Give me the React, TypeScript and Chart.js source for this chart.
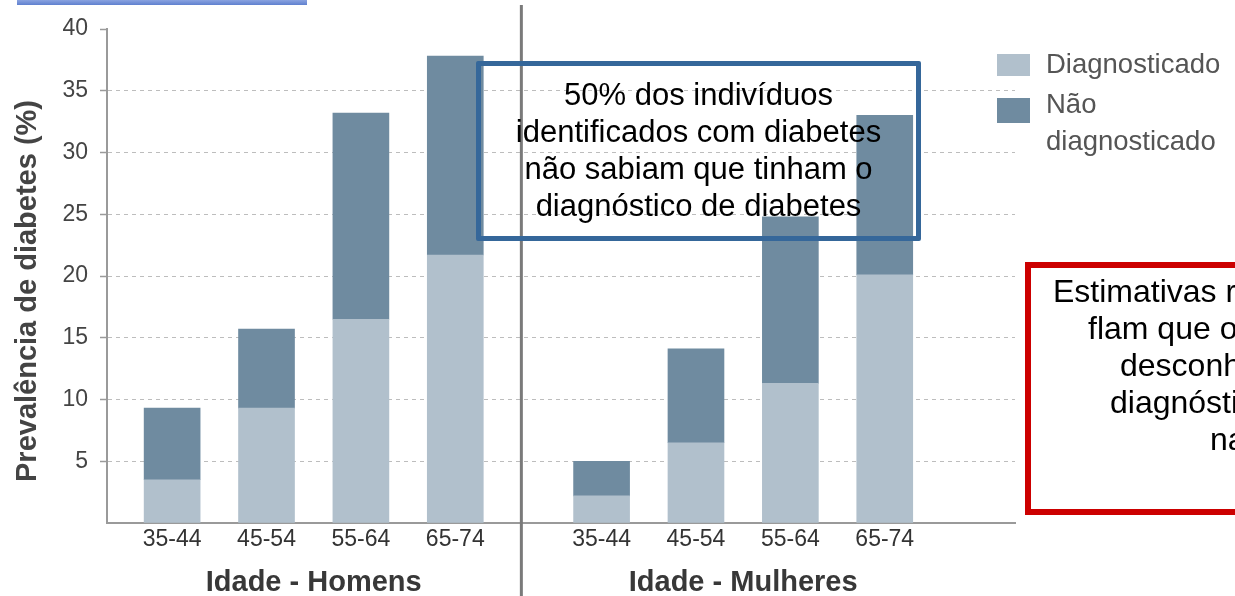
import React, { useEffect, useRef } from "react";
import { Chart, registerables } from "chart.js";

Chart.register(...registerables);

// ---------- data ----------
const AGE_GROUPS = ["35-44", "45-54", "55-64", "65-74"];
const MEN_DIAGNOSED = [3.5, 9.3, 16.5, 21.7];
const MEN_UNDIAGNOSED = [5.8, 6.4, 16.7, 16.1];
const WOMEN_DIAGNOSED = [2.2, 6.5, 11.3, 20.1];
const WOMEN_UNDIAGNOSED = [2.8, 7.6, 13.5, 12.9];
const SERIES_NAMES = ["Diagnosticado", "Não diagnosticado"];
const GROUP_TITLES = ["Idade - Homens", "Idade - Mulheres"];
const Y_TITLE = "Prevalência de diabetes (%)";
const Y_MAX = 40;
const Y_STEP = 5;
const BOX_TEXT = [
  "50% dos indivíduos",
  "identificados com diabetes",
  "não sabiam que tinham o",
  "diagnóstico de diabetes",
];
const RED_BOX_TEXT = ["Estimativas re-", "flam que o", "desconhecimento do", "diagnóstico é", "nacional"];

// ---------- layout helpers (positions on the index axis) ----------
const GROUP_GAP = 1.55;
const WOMEN_START = AGE_GROUPS.length - 1 + GROUP_GAP;
const MEN_POS = AGE_GROUPS.map((_, i) => i);
const WOMEN_POS = AGE_GROUPS.map((_, i) => WOMEN_START + i);
const ALL_POS = [...MEN_POS, ...WOMEN_POS];
const ALL_LABELS = [...AGE_GROUPS, ...AGE_GROUPS];
const DIVIDER_AT = AGE_GROUPS.length - 1 + 0.7;

const LIGHT = "#b1c0cc";
const DARK = "#6f8ba0";
const FONT = "'Liberation Sans', Arial, Helvetica, sans-serif";

export default function App() {
  const canvasRef = useRef<HTMLCanvasElement | null>(null);

  useEffect(() => {
    if (!canvasRef.current) return;
    const diagnosed = [
      ...MEN_POS.map((x, i) => ({ x, y: MEN_DIAGNOSED[i] })),
      ...WOMEN_POS.map((x, i) => ({ x, y: WOMEN_DIAGNOSED[i] })),
    ];
    const undiagnosed = [
      ...MEN_POS.map((x, i) => ({ x, y: MEN_UNDIAGNOSED[i] })),
      ...WOMEN_POS.map((x, i) => ({ x, y: WOMEN_UNDIAGNOSED[i] })),
    ];

    const decor = {
      id: "decor",
      afterDraw(chart: any) {
        const { ctx, chartArea } = chart;
        const xs = chart.scales.x;
        ctx.save();
        // divider
        const dx = xs.getPixelForValue(DIVIDER_AT);
        ctx.strokeStyle = "#7a7a7a";
        ctx.lineWidth = 3;
        ctx.beginPath();
        ctx.moveTo(dx, 5);
        ctx.lineTo(dx, chart.height);
        ctx.stroke();
        // group titles
        ctx.fillStyle = "#383838";
        ctx.font = `bold 29px ${FONT}`;
        ctx.textAlign = "center";
        ctx.textBaseline = "middle";
        const menMid = xs.getPixelForValue((MEN_POS[0] + MEN_POS[MEN_POS.length - 1]) / 2);
        const womenMid = xs.getPixelForValue((WOMEN_POS[0] + WOMEN_POS[WOMEN_POS.length - 1]) / 2);
        ctx.fillText(GROUP_TITLES[0], menMid, chartArea.bottom + 60);
        ctx.fillText(GROUP_TITLES[1], womenMid, chartArea.bottom + 60);
        // y title
        ctx.translate(28, (chartArea.top + chartArea.bottom) / 2 + 15);
        ctx.rotate(-Math.PI / 2);
        ctx.fillStyle = "#444";
        ctx.font = `bold 29px ${FONT}`;
        ctx.fillText(Y_TITLE, 0, 0);
        ctx.restore();
      },
    };

    const chart = new Chart(canvasRef.current, {
      type: "bar",
      data: {
        datasets: [
          { label: SERIES_NAMES[0], data: diagnosed as any, backgroundColor: LIGHT, barThickness: 56 },
          { label: SERIES_NAMES[1], data: undiagnosed as any, backgroundColor: DARK, barThickness: 56 },
        ],
      },
      options: {
        animation: false,
        responsive: false,
        maintainAspectRatio: false,
        devicePixelRatio: 1,
        layout: { padding: { left: 0, top: 29, right: 220, bottom: 0 } },
        plugins: { legend: { display: false }, tooltip: { enabled: false } },
        scales: {
          x: {
            type: "linear",
            stacked: true,
            offset: false,
            min: -0.69,
            max: 8.93,
            afterBuildTicks: (scale: any) => {
              scale.ticks = ALL_POS.map((v) => ({ value: v }));
            },
            afterFit: (scale: any) => {
              scale.height = 73;
            },
            ticks: {
              autoSkip: false,
              maxRotation: 0,
              padding: 3,
              color: "#333",
              font: { family: FONT, size: 23 },
              callback: (_v: any, i: number) => ALL_LABELS[i],
            },
            grid: { display: false, drawTicks: false, offset: false },
            border: { display: true, color: "#9a9a9a", width: 2 },
          },
          y: {
            stacked: true,
            min: 0,
            max: Y_MAX,
            afterFit: (scale: any) => {
              scale.width = 107;
            },
            ticks: {
              stepSize: Y_STEP,
              padding: 12,
              color: "#444",
              font: { family: FONT, size: 23 },
              callback: (v: any) => (v === 0 ? "" : String(v)),
            },
            grid: {
              color: (c: any) =>
                c.tick && (c.tick.value === 0 || c.tick.value === Y_MAX) ? "rgba(0,0,0,0)" : "#bdbdbd",
              tickColor: (c: any) => (c.tick && c.tick.value === 0 ? "rgba(0,0,0,0)" : "#9a9a9a"),
              tickLength: 7,
              tickWidth: 1.5,
              tickBorderDash: [],
              lineWidth: 1,
            },
            border: { display: true, color: "#9a9a9a", width: 2, dash: [4, 4] },
          },
        },
      },
      plugins: [decor],
    } as any);
    return () => chart.destroy();
  }, []);

  const legendText: React.CSSProperties = {
    position: "absolute",
    fontFamily: FONT,
    fontSize: 27.5,
    lineHeight: "37px",
    color: "#555",
    width: 195,
  };

  return (
    <div
      style={{
        position: "absolute",
        left: 0,
        top: 0,
        width: 1235,
        height: 596,
        overflow: "hidden",
        background: "#fff",
      }}
    >
      <div
        style={{
          position: "absolute",
          left: 17,
          top: 0,
          width: 290,
          height: 5,
          background: "linear-gradient(#8aa3e0, #5f80cf)",
        }}
      />
      <canvas ref={canvasRef} width={1235} height={596} style={{ position: "absolute", left: 0, top: 0 }} />

      {/* legend */}
      <div style={{ position: "absolute", left: 997, top: 54, width: 33, height: 22, background: LIGHT }} />
      <div style={{ ...legendText, left: 1046, top: 45 }}>{SERIES_NAMES[0]}</div>
      <div style={{ position: "absolute", left: 997, top: 98, width: 33, height: 25, background: DARK }} />
      <div style={{ ...legendText, left: 1046, top: 85 }}>{SERIES_NAMES[1]}</div>

      {/* blue annotation box */}
      <div
        style={{
          position: "absolute",
          left: 476,
          top: 61,
          width: 445,
          height: 180,
          boxSizing: "border-box",
          border: "5px solid #35679a",
          borderRadius: 2,
          paddingTop: 10,
          textAlign: "center",
          fontFamily: FONT,
          fontSize: 31,
          lineHeight: "37px",
          color: "#000",
        }}
      >
        {BOX_TEXT.map((t, i) => (
          <div key={i}>{t}</div>
        ))}
      </div>

      {/* red annotation box (clipped at the right edge) */}
      <div
        style={{
          position: "absolute",
          left: 1025,
          top: 262,
          width: 420,
          height: 253,
          boxSizing: "border-box",
          border: "6px solid #cc0000",
          fontFamily: FONT,
          fontSize: 32,
          lineHeight: "37px",
          color: "#000",
          paddingTop: 5,
        }}
      >
        {RED_BOX_TEXT.map((t, i) => (
          <div key={i} style={{ whiteSpace: "nowrap", paddingLeft: [22, 57, 89, 79, 179][i] }}>
            {t}
          </div>
        ))}
      </div>
    </div>
  );
}
